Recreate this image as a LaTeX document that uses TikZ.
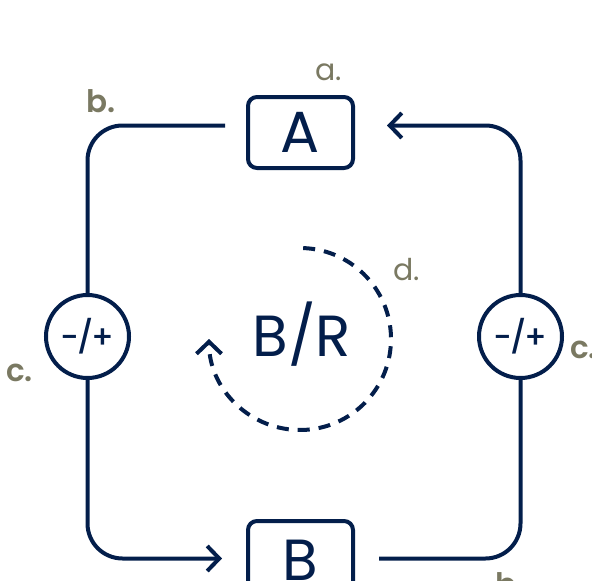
\documentclass[tikz,border=0pt]{standalone}
\usepackage{fontspec}
\setmainfont{Poppins}
\newfontfamily\heavyfont{Poppins SemiBold}
\newfontfamily\midfont{Poppins Medium}
\usetikzlibrary{arrows.meta}
\definecolor{navy}{HTML}{031E4B}
\definecolor{tagcol}{HTML}{7A7962}
\begin{document}
\begin{tikzpicture}[x=1pt,y=-1pt,
  wire/.style={draw=navy, line width=4pt, rounded corners=35pt},
  tipped/.style={-{Straight Barb[length=12pt,width=25pt]}},
  box/.style={draw=navy, line width=4pt, rounded corners=9pt,
    minimum width=105pt, minimum height=71pt, inner sep=0pt,
    font=\fontsize{58}{58}\selectfont, text=navy},
  ring/.style={circle, draw=navy, line width=4pt, minimum size=83pt,
    inner sep=0pt, font=\midfont\fontsize{32}{32}\selectfont, text=navy},
  tag/.style={anchor=base west, inner sep=0pt, text=tagcol,
    font=\fontsize{30}{30}\selectfont},
  tagb/.style={anchor=base west, inner sep=0pt, text=tagcol,
    font=\heavyfont\fontsize{31}{31}\selectfont}]
\useasboundingbox (0,0) rectangle (592,581);
\clip (0,0) rectangle (592,581);

% the two stocks and the two couplings
\node[box] (A) at (300.5,132.5) {A};
\node[box, minimum height=79pt] (B) at (300.5,560.5) {B};
\node[ring] (L) at (87.5,336.5) {-\kern-2pt/\kern-2pt+};
\node[ring] (R) at (520.5,336.5) {-\kern-2pt/\kern-2pt+};

% loop type in the middle
\node[anchor=base, inner sep=0pt, text=navy,
  font=\fontsize{58}{58}\selectfont] (BR) at (302,356) {B/R};

% free ends of the links, just short of the boxes
\coordinate (tl) at (225,125.5);
\coordinate (tr) at (387,125.5);
\coordinate (bl) at (222,558.5);
\coordinate (br) at (379,558.5);

\draw[wire] (tl) -| (L.north);
\draw[wire, tipped] (L.south) |- (bl);
\draw[wire] (br) -| (R.south);
\draw[wire, tipped] (R.north) |- (tr);

% circulation arrow around the loop label
\draw[navy, line width=4pt, dash pattern=on 12pt off 9pt,
  -{Straight Barb[length=12pt,width=25pt]}]
  ([shift={(-88:91)}]300,339) arc[start angle=-88, end angle=180, radius=91];

% letters
\node[tag]  (la)  at (315,80)  {a.};
\node[tagb] (lb1) at (86,112)  {b.};
\node[tagb] (lc1) at (6,381)   {c.};
\node[tagb] (lc2) at (570,358) {c.};
\node[tag]  (ld)  at (393,280) {d.};
\node[tagb] (lb2) at (495,595) {b.};
\end{tikzpicture}
\end{document}
